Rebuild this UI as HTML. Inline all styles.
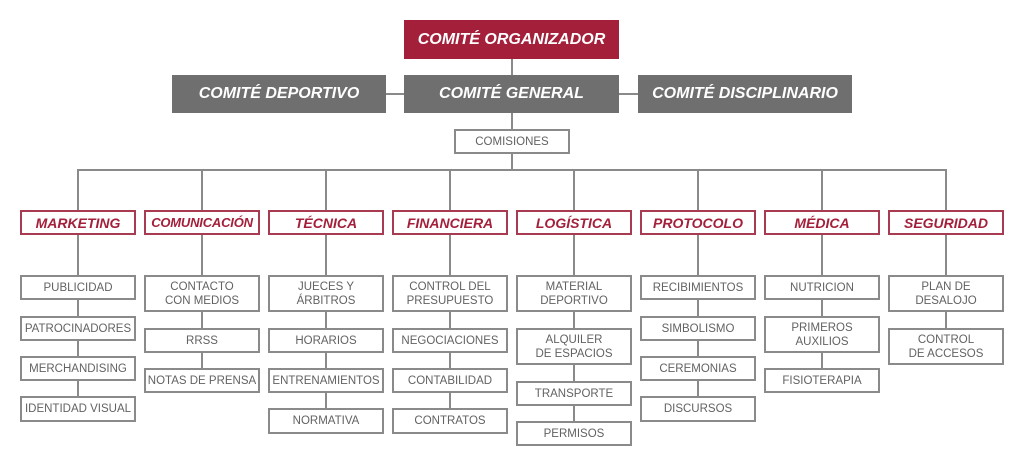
<!DOCTYPE html>
<html><head><meta charset="utf-8"><style>
body{margin:0;width:1024px;height:467px;background:#fff;position:relative;overflow:hidden;font-family:"Liberation Sans",sans-serif}
.b{position:absolute;box-sizing:border-box;display:flex;align-items:center;justify-content:center;text-align:center;white-space:nowrap}
.top{color:#fff;font-weight:bold;font-style:italic;font-size:16px;background:#6f6f6f}
.cat{border:2px solid #a83a52;background:#fff;color:#a31f3a;font-weight:bold;font-style:italic;font-size:14px;height:25px;top:210px;width:116px}
.s{border:2px solid #8a8a8a;background:#fff;color:#626262;font-size:11.5px;line-height:14px;width:116px}
.l{position:absolute;background:#8a8a8a}
</style></head><body>
<div class="l" style="left:511px;top:59px;width:2px;height:80px"></div>
<div class="l" style="left:386px;top:93px;width:252px;height:2px"></div>
<div class="l" style="left:511px;top:154px;width:2px;height:16px"></div>
<div class="l" style="left:77px;top:169px;width:870px;height:2px"></div>
<div class="l" style="left:77px;top:169px;width:2px;height:240px"></div>
<div class="l" style="left:201px;top:169px;width:2px;height:210px"></div>
<div class="l" style="left:325px;top:169px;width:2px;height:250px"></div>
<div class="l" style="left:449px;top:169px;width:2px;height:250px"></div>
<div class="l" style="left:573px;top:169px;width:2px;height:260px"></div>
<div class="l" style="left:697px;top:169px;width:2px;height:240px"></div>
<div class="l" style="left:821px;top:169px;width:2px;height:210px"></div>
<div class="l" style="left:945px;top:169px;width:2px;height:170px"></div>

<div class="b top" style="left:404px;top:20px;width:215px;height:39px;background:#a31f3a">COMITÉ ORGANIZADOR</div>
<div class="b top" style="left:172px;top:75px;width:214px;height:38px">COMITÉ DEPORTIVO</div>
<div class="b top" style="left:404px;top:75px;width:215px;height:38px">COMITÉ GENERAL</div>
<div class="b top" style="left:638px;top:75px;width:214px;height:38px">COMITÉ DISCIPLINARIO</div>
<div class="b s" style="left:454px;top:129px;height:25px">COMISIONES</div>

<div class="b cat" style="left:20px">MARKETING</div>
<div class="b cat" style="left:144px;font-size:13px;letter-spacing:-0.2px">COMUNICACIÓN</div>
<div class="b cat" style="left:268px">TÉCNICA</div>
<div class="b cat" style="left:392px">FINANCIERA</div>
<div class="b cat" style="left:516px">LOGÍSTICA</div>
<div class="b cat" style="left:640px">PROTOCOLO</div>
<div class="b cat" style="left:764px">MÉDICA</div>
<div class="b cat" style="left:888px">SEGURIDAD</div>

<div class="b s" style="left:20px;top:275px;height:25px">PUBLICIDAD</div>
<div class="b s" style="left:20px;top:316px;height:25px">PATROCINADORES</div>
<div class="b s" style="left:20px;top:356px;height:25px">MERCHANDISING</div>
<div class="b s" style="left:20px;top:396px;height:26px">IDENTIDAD VISUAL</div>

<div class="b s" style="left:144px;top:275px;height:37px">CONTACTO<br>CON MEDIOS</div>
<div class="b s" style="left:144px;top:328px;height:25px">RRSS</div>
<div class="b s" style="left:144px;top:368px;height:25px">NOTAS DE PRENSA</div>

<div class="b s" style="left:268px;top:275px;height:37px">JUECES Y<br>ÁRBITROS</div>
<div class="b s" style="left:268px;top:328px;height:25px">HORARIOS</div>
<div class="b s" style="left:268px;top:368px;height:25px">ENTRENAMIENTOS</div>
<div class="b s" style="left:268px;top:408px;height:26px">NORMATIVA</div>

<div class="b s" style="left:392px;top:275px;height:37px">CONTROL DEL<br>PRESUPUESTO</div>
<div class="b s" style="left:392px;top:328px;height:25px">NEGOCIACIONES</div>
<div class="b s" style="left:392px;top:368px;height:25px">CONTABILIDAD</div>
<div class="b s" style="left:392px;top:408px;height:26px">CONTRATOS</div>

<div class="b s" style="left:516px;top:275px;height:37px">MATERIAL<br>DEPORTIVO</div>
<div class="b s" style="left:516px;top:328px;height:37px">ALQUILER<br>DE ESPACIOS</div>
<div class="b s" style="left:516px;top:381px;height:25px">TRANSPORTE</div>
<div class="b s" style="left:516px;top:421px;height:25px">PERMISOS</div>

<div class="b s" style="left:640px;top:275px;height:25px">RECIBIMIENTOS</div>
<div class="b s" style="left:640px;top:316px;height:25px">SIMBOLISMO</div>
<div class="b s" style="left:640px;top:356px;height:25px">CEREMONIAS</div>
<div class="b s" style="left:640px;top:396px;height:26px">DISCURSOS</div>

<div class="b s" style="left:764px;top:275px;height:25px">NUTRICION</div>
<div class="b s" style="left:764px;top:316px;height:37px">PRIMEROS<br>AUXILIOS</div>
<div class="b s" style="left:764px;top:368px;height:25px">FISIOTERAPIA</div>

<div class="b s" style="left:888px;top:275px;height:37px">PLAN DE<br>DESALOJO</div>
<div class="b s" style="left:888px;top:328px;height:37px">CONTROL<br>DE ACCESOS</div>
</body></html>
